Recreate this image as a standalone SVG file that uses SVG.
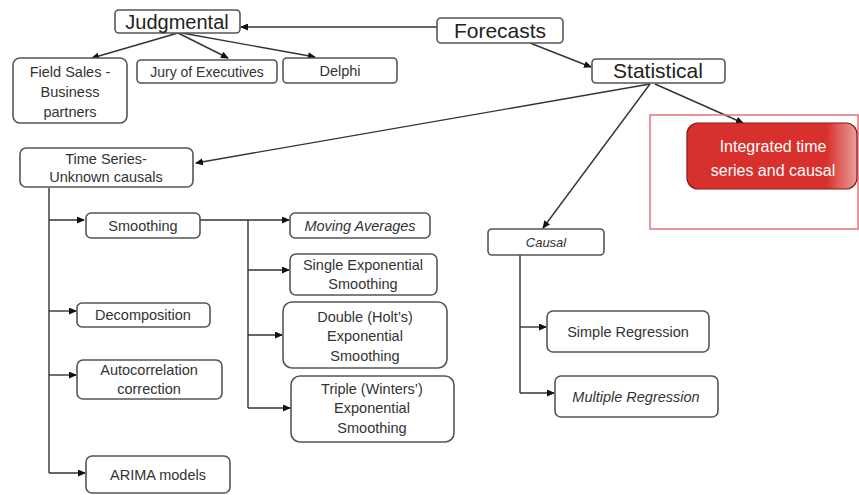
<svg xmlns="http://www.w3.org/2000/svg" width="859" height="495" viewBox="0 0 859 495">
  <style>
    .box { fill: #ffffff; stroke: #555555; stroke-width: 1.6; }
    .lbl { font-family: "Liberation Sans", "DejaVu Sans", sans-serif; font-size: 14.5px; fill: #333333; text-anchor: middle; }
    .big { font-size: 21px; fill: #222222; }
    .it { font-style: italic; }
    .wire { fill: none; stroke: #333333; stroke-width: 1.4; }
    .arr { marker-end: url(#head); }
  </style>
  <defs>
    <marker id="head" markerUnits="userSpaceOnUse" markerWidth="8" markerHeight="7" refX="7" refY="3.5" orient="auto">
      <path d="M0,0 L8,3.5 L0,7 z" fill="#111111"/>
    </marker>
    <linearGradient id="fade" x1="0" y1="0" x2="1" y2="0">
      <stop offset="0" stop-color="#d8302c"/>
      <stop offset="0.82" stop-color="#d8302c"/>
      <stop offset="1" stop-color="#e9a09a"/>
    </linearGradient>
  </defs>

  <rect width="859" height="495" fill="#ffffff"/>

  <!-- connectors -->
  <g id="connectors">
    <line class="wire arr" x1="437" y1="27" x2="241" y2="27"/>
    <line class="wire arr" x1="530" y1="43" x2="591" y2="67"/>
    <line class="wire arr" x1="178" y1="33" x2="92" y2="58"/>
    <line class="wire arr" x1="178" y1="33" x2="228" y2="58"/>
    <line class="wire arr" x1="182" y1="33" x2="315" y2="57"/>
    <line class="wire arr" x1="650" y1="84" x2="196" y2="163"/>
    <line class="wire arr" x1="650" y1="84" x2="543" y2="228"/>
    <line class="wire arr" x1="655" y1="84" x2="743" y2="123"/>
    <!-- time series trunk -->
    <path class="wire" d="M49,188 V473"/>
    <path class="wire arr" d="M49,220 H84"/>
    <path class="wire arr" d="M49,311 H76"/>
    <path class="wire arr" d="M49,375 H76"/>
    <path class="wire arr" d="M49,473 H85"/>
    <!-- smoothing trunk -->
    <path class="wire" d="M200,220 H248 M248,220 V408"/>
    <path class="wire arr" d="M248,220 H289"/>
    <path class="wire arr" d="M248,270 H289"/>
    <path class="wire arr" d="M248,335 H282"/>
    <path class="wire arr" d="M248,408 H290"/>
    <!-- causal trunk -->
    <path class="wire" d="M520,255 V393"/>
    <path class="wire arr" d="M520,327 H546"/>
    <path class="wire arr" d="M520,393 H554"/>
  </g>

  <!-- group frame around the integrated node -->
  <rect x="650" y="115" width="208" height="114" fill="none" stroke="#e07480" stroke-width="1.5"/>

  <g id="forecasts">
    <rect class="box" x="437" y="18" width="126" height="25" rx="4"/>
    <text class="lbl big" x="500" y="38">Forecasts</text>
  </g>
  <g id="judgmental">
    <rect class="box" x="115" y="10" width="125" height="23" rx="4"/>
    <text class="lbl big" x="177" y="29" style="font-size:20px">Judgmental</text>
  </g>
  <g id="statistical">
    <rect class="box" x="592" y="59" width="133" height="24" rx="4"/>
    <text class="lbl big" x="658" y="78">Statistical</text>
  </g>
  <g id="field-sales">
    <rect class="box" x="13" y="58" width="114" height="65" rx="7"/>
    <text class="lbl" x="70" y="77">Field Sales -</text>
    <text class="lbl" x="70" y="97">Business</text>
    <text class="lbl" x="70" y="117">partners</text>
  </g>
  <g id="jury">
    <rect class="box" x="137" y="60" width="140" height="23" rx="4"/>
    <text class="lbl" x="207" y="77" style="font-size:14px">Jury of Executives</text>
  </g>
  <g id="delphi">
    <rect class="box" x="283" y="58" width="114" height="25" rx="4"/>
    <text class="lbl" x="340" y="76">Delphi</text>
  </g>
  <g id="integrated">
    <rect x="687" y="123" width="170" height="66" rx="11" fill="url(#fade)" stroke="#8a1a18" stroke-width="1.2"/>
    <text class="lbl" x="773" y="152" style="fill:#ffffff;font-size:16px">Integrated time</text>
    <text class="lbl" x="773" y="176" style="fill:#ffffff;font-size:16px">series and causal</text>
  </g>
  <g id="time-series">
    <rect class="box" x="20" y="148" width="173" height="39" rx="6"/>
    <text class="lbl" x="106" y="164">Time Series-</text>
    <text class="lbl" x="106" y="182">Unknown causals</text>
  </g>
  <g id="smoothing">
    <rect class="box" x="86" y="213" width="114" height="25" rx="5"/>
    <text class="lbl" x="143" y="231">Smoothing</text>
  </g>
  <g id="moving-averages">
    <rect class="box" x="290" y="213" width="140" height="25" rx="5"/>
    <text class="lbl it" x="360" y="231">Moving Averages</text>
  </g>
  <g id="single-exp">
    <rect class="box" x="290" y="254" width="147" height="41" rx="6"/>
    <text class="lbl" x="363" y="270">Single Exponential</text>
    <text class="lbl" x="363" y="289">Smoothing</text>
  </g>
  <g id="double-exp">
    <rect class="box" x="283" y="302" width="164" height="66" rx="9"/>
    <text class="lbl" x="365" y="322">Double (Holt’s)</text>
    <text class="lbl" x="365" y="341">Exponential</text>
    <text class="lbl" x="365" y="361">Smoothing</text>
  </g>
  <g id="triple-exp">
    <rect class="box" x="291" y="376" width="163" height="66" rx="9"/>
    <text class="lbl" x="372" y="394">Triple (Winters’)</text>
    <text class="lbl" x="372" y="413">Exponential</text>
    <text class="lbl" x="372" y="433">Smoothing</text>
  </g>
  <g id="decomposition">
    <rect class="box" x="77" y="303" width="133" height="24" rx="5"/>
    <text class="lbl" x="143" y="320">Decomposition</text>
  </g>
  <g id="autocorrelation">
    <rect class="box" x="77" y="360" width="145" height="39" rx="6"/>
    <text class="lbl" x="149" y="375">Autocorrelation</text>
    <text class="lbl" x="149" y="394">correction</text>
  </g>
  <g id="arima">
    <rect class="box" x="86" y="456" width="144" height="37" rx="6"/>
    <text class="lbl" x="158" y="480">ARIMA models</text>
  </g>
  <g id="causal">
    <rect class="box" x="488" y="229" width="116" height="26" rx="4"/>
    <text class="lbl it" x="546" y="247" style="font-size:13px">Causal</text>
  </g>
  <g id="simple-regression">
    <rect class="box" x="547" y="311" width="162" height="41" rx="6"/>
    <text class="lbl" x="628" y="337">Simple Regression</text>
  </g>
  <g id="multiple-regression">
    <rect class="box" x="555" y="376" width="163" height="41" rx="6"/>
    <text class="lbl it" x="636" y="402">Multiple Regression</text>
  </g>
</svg>
